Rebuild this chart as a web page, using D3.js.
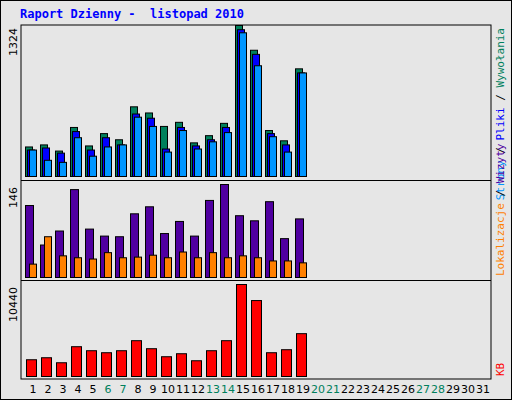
<!DOCTYPE html>
<html lang="pl">
<head>
<meta charset="UTF-8">
<title>Raport Dzienny</title>
<style>
  html, body { margin: 0; padding: 0; background: #fff; }
  svg { display: block; }
</style>
</head>
<body>
<svg id="chart" width="512" height="400"></svg>
<script src="https://d3js.org/d3.v7.min.js"></script>
<script>
// dane z wykresu (listopad 2010, dni 1-19)
const days = d3.range(1, 32);
const weekend = [6, 7, 13, 14, 20, 21, 27, 28];
const hits   = [259, 277, 223, 430, 268, 376, 322, 611, 557, 439, 475, 295, 358, 466, 1324, 1107, 403, 313, 944];
const files  = [232, 250, 205, 394, 232, 340, 277, 548, 511, 241, 430, 268, 322, 430, 1287, 1071, 376, 277, 908];
const pages  = [232, 142, 124, 340, 178, 259, 277, 520, 439, 214, 403, 241, 304, 385, 1260, 971, 349, 214, 908];
const visits = [113, 51, 73, 138, 76, 65, 64, 100, 111, 69, 88, 65, 121, 146, 97, 89, 119, 61, 92];
const sites  = [21, 64, 34, 31, 29, 39, 31, 32, 35, 31, 40, 31, 39, 31, 34, 31, 26, 26, 23];
const kbytes = [1901, 2129, 1560, 3381, 2926, 2698, 2926, 4064, 3154, 2243, 2584, 1787, 2926, 4064, 10440, 8618, 2698, 3040, 4861];

const svg = d3.select('#chart');
const font = 'DejaVu Sans Mono, monospace';

// tło i ramka
svg.append('rect').attr('x', 0.5).attr('y', 0.5).attr('width', 511).attr('height', 399)
  .attr('fill', '#e6e6e6').attr('stroke', '#000');

svg.append('text').attr('x', 20).attr('y', 18)
  .attr('font-family', font).attr('font-size', 12).attr('font-weight', 'bold')
  .attr('fill', '#0000ff').attr('xml:space', 'preserve')
  .text('Raport Dzienny -  listopad 2010');

const left = 21, right = 491;
const x = d3.scaleBand().domain(days).range([25, 25 + 15 * 31]).paddingInner(0);

const panels = [
  { top: 25, bottom: 176, max: 1324, edge: 180 },
  { top: 184, bottom: 277, max: 146, edge: 280 },
  { top: 284, bottom: 376, max: 10440, edge: 379 }
];

// obramowania paneli
svg.append('rect').attr('x', left).attr('y', 25).attr('width', right - left).attr('height', 379 - 25)
  .attr('fill', 'none').attr('stroke', '#000');
[180, 280].forEach(yy => svg.append('line').attr('x1', left).attr('x2', right)
  .attr('y1', yy + 0.5).attr('y2', yy + 0.5).attr('stroke', '#000'));

function bars(data, p, off, w, color) {
  const y = d3.scaleLinear().domain([0, p.max]).range([p.bottom, p.top]);
  svg.append('g').selectAll('rect').data(data).enter().append('rect')
    .attr('x', (d, i) => x(i + 1) + off + 0.5)
    .attr('y', d => y(d) + 0.5)
    .attr('width', w)
    .attr('height', d => p.bottom - y(d))
    .attr('fill', color).attr('stroke', '#000');
}

bars(hits, panels[0], 0, 7, '#00805c');
bars(files, panels[0], 2, 7, '#0000ff');
bars(pages, panels[0], 4, 7, '#0096ff');
bars(visits, panels[1], 0, 8, '#5000a0');
bars(sites, panels[1], 4, 7, '#ff8000');
bars(kbytes, panels[2], 1, 10, '#ff0000');

// etykiety maksimów
panels.forEach(p => {
  svg.append('text').attr('transform', `translate(17,${p.top + 3}) rotate(-90)`)
    .attr('text-anchor', 'end').attr('font-family', 'DejaVu Sans, sans-serif')
    .attr('font-size', 11).attr('fill', '#000').text(p.max);
});

// dni
svg.append('g').selectAll('text').data(days).enter().append('text')
  .attr('x', d => x(d) + 8).attr('y', 393).attr('text-anchor', 'middle')
  .attr('font-family', 'DejaVu Sans, sans-serif').attr('font-size', 11)
  .attr('fill', d => weekend.includes(d) ? '#00805c' : '#000')
  .text(d => d);

// legendy pionowe
function legend(yy, parts, anchor) {
  const t = svg.append('text').attr('transform', `translate(504,${yy}) rotate(-90)`)
    .attr('text-anchor', anchor).attr('font-family', font).attr('font-size', 11)
    .attr('xml:space', 'preserve');
  parts.forEach(([s, c]) => t.append('tspan').attr('fill', c).text(s));
}
legend(28, [['Strony', '#0096ff'], [' / ', '#000'], ['Pliki', '#0000ff'], [' / ', '#000'], ['Wywołania', '#00805c']], 'end');
legend(276, [['Lokalizacje', '#ff8000'], [' / ', '#000'], ['Wizyty', '#5000a0']], 'start');
legend(376, [['KB', '#ff0000']], 'start');
</script>
</body>
</html>
